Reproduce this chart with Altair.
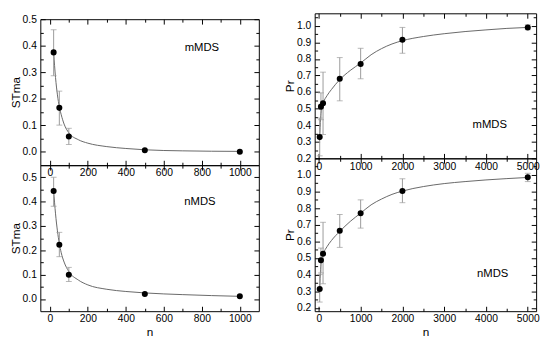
import altair as alt
import pandas as pd

# ---------------- data ----------------
n_st = [20, 50, 100, 500, 1000]
st_mmds = [0.375, 0.166, 0.058, 0.006, 0.001]
st_mmds_lo = [0.287, 0.101, 0.028, 0.006, 0.001]
st_mmds_hi = [0.460, 0.229, 0.089, 0.006, 0.001]
st_nmds = [0.444, 0.223, 0.100, 0.021, 0.011]
st_nmds_lo = [0.381, 0.174, 0.072, 0.021, 0.011]
st_nmds_hi = [0.500, 0.274, 0.130, 0.021, 0.011]

n_pr = [20, 50, 100, 500, 1000, 2000, 5000]
pr_mmds = [0.328, 0.512, 0.532, 0.680, 0.769, 0.915, 0.990]
pr_mmds_lo = [0.215, 0.433, 0.344, 0.547, 0.680, 0.834, 0.976]
pr_mmds_hi = [0.443, 0.595, 0.720, 0.808, 0.864, 0.990, 1.006]
pr_nmds = [0.314, 0.487, 0.526, 0.664, 0.770, 0.904, 0.986]
pr_nmds_lo = [0.235, 0.410, 0.345, 0.564, 0.680, 0.833, 0.960]
pr_nmds_hi = [0.400, 0.560, 0.715, 0.762, 0.850, 0.977, 1.010]

# fitted curves
curve_n_st = [20, 30, 40, 50, 60, 75, 100, 150, 200, 300, 400, 500, 700, 1000]
curve_st_mmds = [0.375, 0.28, 0.215, 0.17, 0.14, 0.105, 0.072, 0.046, 0.033, 0.020, 0.013, 0.008, 0.004, 0.002]
curve_st_nmds = [0.445, 0.35, 0.28, 0.228, 0.19, 0.152, 0.113, 0.078, 0.058, 0.040, 0.031, 0.025, 0.018, 0.011]

curve_n_pr = [20, 40, 60, 100, 200, 300, 500, 750, 1000, 1250, 1500, 1750, 2000, 2500, 3000, 3500, 4000, 4500, 5000]
curve_pr_mmds = [0.32, 0.44, 0.49, 0.53, 0.58, 0.615, 0.675, 0.73, 0.775, 0.825, 0.862, 0.89, 0.91, 0.935, 0.952, 0.965, 0.975, 0.984, 0.99]
curve_pr_nmds = [0.31, 0.43, 0.48, 0.52, 0.57, 0.605, 0.66, 0.72, 0.77, 0.82, 0.855, 0.883, 0.903, 0.93, 0.948, 0.96, 0.97, 0.978, 0.985]

# axis tick values (major + minor)
x_ticks_st = [0, 100, 200, 300, 400, 500, 600, 700, 800, 900, 1000]
x_ticks_pr = [0, 500, 1000, 1500, 2000, 2500, 3000, 3500, 4000, 4500, 5000]
y_ticks_st_top = [0.0, 0.05, 0.1, 0.15, 0.2, 0.25, 0.3, 0.35, 0.4, 0.45, 0.5]
y_ticks_st_bot = [0.0, 0.05, 0.1, 0.15, 0.2, 0.25, 0.3, 0.35, 0.4, 0.45, 0.5]
y_ticks_pr_top = [0.2, 0.25, 0.3, 0.35, 0.4, 0.45, 0.5, 0.55, 0.6, 0.65, 0.7, 0.75, 0.8, 0.85, 0.9, 0.95, 1.0, 1.05]
y_ticks_pr_bot = [0.2, 0.25, 0.3, 0.35, 0.4, 0.45, 0.5, 0.55, 0.6, 0.65, 0.7, 0.75, 0.8, 0.85, 0.9, 0.95, 1.0, 1.05]

FONT = "Liberation Sans"
YTEST = "round(datum.value * 100) % 10 === 0"


def make_axis(orient, values, test, title=None, labels=True, fmt=None, label_pad=8):
    kw = dict(
        orient=orient, values=values, domain=False, grid=False,
        tickColor="black", tickWidth=1,
        tickSize={"condition": {"test": test, "value": -5}, "value": -3},
        labelOverlap=False, labelFlush=False,
    )
    if labels:
        kw.update(labels=True, labelExpr="(" + test + ") ? datum.label : ''",
                  labelPadding=label_pad, format=fmt, labelFont=FONT,
                  labelFontSize=10.5, labelColor="black")
    else:
        kw.update(labels=False)
    if title:
        kw.update(title=title, titleFont=FONT, titleFontSize=12,
                  titleFontWeight="normal", titleColor="black", titlePadding=0)
    else:
        kw["title"] = None
    return alt.Axis(**kw)


def panel(n, v, lo, hi, cn, cv, ann, xdom, ydom, xvals, yvals, xtest,
          ytitle, xtitle, w, h):
    pts = pd.DataFrame({"n": n, "v": v, "lo": lo, "hi": hi})
    curve = pd.DataFrame({"n": cn, "v": cv})
    ann_df = pd.DataFrame({"n": [ann[0]], "v": [ann[1]], "t": [ann[2]]})
    xs = alt.Scale(domain=xdom, nice=False, zero=False)
    ys = alt.Scale(domain=ydom, nice=False, zero=False)
    xa = make_axis("bottom", xvals, xtest, title=xtitle, fmt="d", label_pad=8)
    ya = make_axis("left", yvals, YTEST, title=ytitle, fmt=".1f", label_pad=9)

    def X(f):
        return alt.X(f, type="quantitative", scale=xs, axis=xa)

    def Y(f):
        return alt.Y(f, type="quantitative", scale=ys, axis=ya)

    line = alt.Chart(curve).mark_line(color="#666666", strokeWidth=1,
                                      interpolate="monotone").encode(x=X("n"), y=Y("v"))
    err = alt.Chart(pts).transform_filter("datum.hi > datum.lo")
    rules = err.mark_rule(color="#9a9a9a", strokeWidth=1).encode(
        x=X("n"), y=Y("lo"), y2=alt.Y2("hi"))
    cap_lo = err.mark_tick(orient="horizontal", color="#9a9a9a", size=6,
                           thickness=1).encode(x=X("n"), y=Y("lo"))
    cap_hi = err.mark_tick(orient="horizontal", color="#9a9a9a", size=6,
                           thickness=1).encode(x=X("n"), y=Y("hi"))
    dots = alt.Chart(pts).mark_circle(color="black", size=38, opacity=1).encode(
        x=X("n"), y=Y("v"))
    txt = alt.Chart(ann_df).mark_text(font=FONT, fontSize=11.5, color="black").encode(
        x=X("n"), y=Y("v"), text="t:N")
    main = alt.layer(line, rules, cap_lo, cap_hi, dots, txt)

    xm = make_axis("top", xvals, xtest, labels=False)
    ym = make_axis("right", yvals, YTEST, labels=False)
    mirror = alt.Chart(pts).mark_point(opacity=0).encode(
        x=alt.X("n", type="quantitative", scale=xs, axis=xm),
        y=alt.Y("v", type="quantitative", scale=ys, axis=ym))
    return alt.layer(main, mirror).resolve_scale(
        x="independent", y="independent").properties(width=w, height=h)


LW, RW = 223, 226

tl = panel(n_st, st_mmds, st_mmds_lo, st_mmds_hi, curve_n_st, curve_st_mmds,
           (800, 0.39, "mMDS"), [-50, 1100], [-0.05, 0.5], x_ticks_st,
           y_ticks_st_top, "datum.value % 200 === 0", "STma", None, LW, 149)
bl = panel(n_st, st_nmds, st_nmds_lo, st_nmds_hi, curve_n_st, curve_st_nmds,
           (790, 0.40, "nMDS"), [-50, 1100], [-0.05, 0.55], x_ticks_st,
           y_ticks_st_bot, "datum.value % 200 === 0", "STma", "n", LW, 149)
tr = panel(n_pr, pr_mmds, pr_mmds_lo, pr_mmds_hi, curve_n_pr, curve_pr_mmds,
           (4090, 0.40, "mMDS"), [-100, 5200], [0.2, 1.075], x_ticks_pr,
           y_ticks_pr_top, "datum.value % 1000 === 0", "Pr", None, RW, 148)
br = panel(n_pr, pr_nmds, pr_nmds_lo, pr_nmds_hi, curve_n_pr, curve_pr_nmds,
           (4160, 0.405, "nMDS"), [-100, 5200], [0.18, 1.1], x_ticks_pr,
           y_ticks_pr_bot, "datum.value % 1000 === 0", "Pr", "n", RW, 156)

spacer = alt.Chart(pd.DataFrame({"a": [0]})).mark_point(opacity=0).encode(
    x=alt.X("a:Q", axis=None), y=alt.Y("a:Q", axis=None)
).properties(width=LW, height=6, view=alt.ViewBackground(strokeOpacity=0))

left = alt.vconcat(spacer, tl, bl, spacing=0, bounds="flush")
right = alt.vconcat(tr, br, spacing=0, bounds="flush")

chart = alt.hconcat(left, right, spacing=23).properties(
    padding={"left": 0, "top": 0, "right": 2, "bottom": 0},
    background="white",
).configure_view(stroke="black", strokeWidth=1)

chart.save("out.html", embed_options={"renderer": "svg", "actions": False})
